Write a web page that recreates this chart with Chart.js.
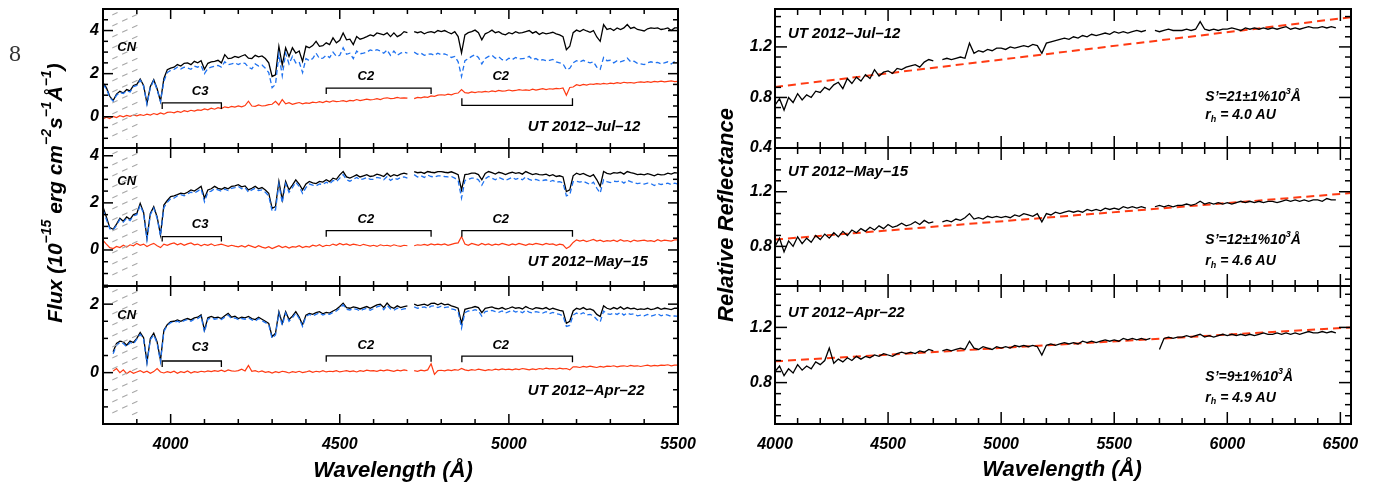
<!DOCTYPE html>
<html>
<head>
<meta charset="utf-8">
<script src="https://cdn.jsdelivr.net/npm/chart.js@4.4.0/dist/chart.umd.min.js"></script>
<style>
  html, body { margin: 0; padding: 0; background: #fff; }
  #wrap { position: relative; width: 1377px; height: 493px; overflow: hidden; }
  #wrap canvas { position: absolute; left: 0; top: 0; }
</style>
</head>
<body>
<div id="wrap">
  <canvas id="l0" width="1377" height="493"></canvas>
  <canvas id="l1" width="1377" height="493"></canvas>
  <canvas id="l2" width="1377" height="493"></canvas>
  <canvas id="r0" width="1377" height="493"></canvas>
  <canvas id="r1" width="1377" height="493"></canvas>
  <canvas id="r2" width="1377" height="493"></canvas>
</div>
<script>
// ---- left panel: flux spectra (10^-15 erg cm^-2 s^-1 A^-1) ----
const leftWl = [
  3800,3810,3820,3830,3840,3850,3860,3870,3880,3890,
  3900,3910,3920,3930,3940,3950,3960,3970,3980,3990,
  4000,4010,4020,4030,4040,4050,4060,4070,4080,4090,
  4100,4110,4120,4130,4140,4150,4160,4170,4180,4190,
  4200,4210,4220,4230,4240,4250,4260,4270,4280,4290,
  4300,4310,4320,4330,4340,4350,4360,4370,4380,4390,
  4400,4410,4420,4430,4440,4450,4460,4470,4480,4490,
  4500,4510,4520,4530,4540,4550,4560,4570,4580,4590,
  4600,4610,4620,4630,4640,4650,4660,4670,4680,4690,
  4700,4710,4720,4730,4740,4750,4760,4770,4780,4790,
  4800,4810,4820,4830,4840,4850,4860,4870,4880,4890,
  4900,4910,4920,4930,4940,4950,4960,4970,4980,4990,
  5000,5010,5020,5030,5040,5050,5060,5070,5080,5090,
  5100,5110,5120,5130,5140,5150,5160,5170,5180,5190,
  5200,5210,5220,5230,5240,5250,5260,5270,5280,5290,
  5300,5310,5320,5330,5340,5350,5360,5370,5380,5390,
  5400,5410,5420,5430,5440,5450,5460,5470,5480,5490,
  5500
];

// UT 2012-Jul-12
const julComet = [
  1.57,1.35,0.95,0.75,1.05,1.18,1.1,1.26,1.2,1.45,
  1.5,1.75,1.45,0.62,1.4,1.72,1.3,0.72,1.78,2.18,
  2.26,2.3,2.42,2.35,2.48,2.5,2.42,2.57,2.5,2.6,
  2.2,2.48,2.55,2.57,2.62,2.5,2.88,2.7,2.72,2.8,
  2.75,2.82,2.88,2.72,2.7,2.85,2.78,2.82,2.7,2.5,
  1.87,1.95,3.27,2.4,3.2,2.8,3.2,2.95,3.05,2.57,
  3.27,3.2,3.3,3.5,3.27,3.3,3.43,3.35,3.66,3.43,
  3.55,3.89,3.57,3.6,3.35,3.72,3.6,3.65,3.72,3.8,
  3.75,3.89,3.85,3.8,3.89,3.72,3.89,3.72,3.8,3.95,
  3.9,null,3.95,3.9,3.95,3.85,3.92,3.95,3.9,4.0,
  3.95,4.0,3.92,3.85,3.95,3.72,2.96,3.8,3.9,3.95,
  4.02,3.9,3.57,3.85,3.92,4.02,3.9,3.95,3.85,3.8,
  3.9,3.85,3.95,3.88,3.9,3.95,4.0,3.88,3.95,3.82,
  3.9,3.85,3.88,3.92,3.85,3.8,3.72,3.11,3.27,3.9,
  4.02,3.95,4.05,3.98,3.92,4.0,3.7,3.5,4.28,4.05,
  4.1,4.0,4.12,4.05,4.12,4.28,4.1,4.15,4.05,4.02,
  3.98,4.08,4.12,4.1,4.12,4.05,4.08,4.12,4.0,4.12,
  4.12
];
const julSolar = [
  1.5,1.3,0.9,0.72,1.0,1.12,1.08,1.2,1.15,1.4,
  1.45,1.7,1.42,0.58,1.35,1.68,1.25,0.7,1.65,2.05,
  2.15,2.2,2.3,2.22,2.3,2.26,2.2,2.35,2.3,2.38,
  2.0,2.25,2.3,2.35,2.38,2.3,2.55,2.42,2.45,2.5,
  2.42,2.5,2.48,2.3,2.22,2.45,2.35,2.4,2.25,2.05,
  1.35,1.5,2.9,1.9,2.95,2.45,2.8,2.5,2.55,2.05,
  2.7,2.6,2.7,2.95,2.7,2.72,2.85,2.75,3.0,2.8,
  2.85,3.2,2.9,2.95,2.7,3.05,2.92,2.95,3.0,3.1,
  3.05,3.11,3.05,2.95,3.1,2.85,3.05,2.85,2.95,3.0,
  2.95,null,3.0,2.9,2.95,2.85,2.9,2.92,2.85,2.95,
  2.88,2.92,2.85,2.75,2.8,2.55,1.87,2.6,2.7,2.8,
  2.88,2.75,2.45,2.7,2.8,2.85,2.72,2.78,2.65,2.6,
  2.72,2.65,2.75,2.68,2.7,2.72,2.8,2.65,2.7,2.6,
  2.65,2.6,2.62,2.66,2.55,2.5,2.45,2.19,2.25,2.5,
  2.6,2.55,2.62,2.55,2.5,2.55,2.3,2.2,2.75,2.6,
  2.62,2.5,2.6,2.55,2.6,2.72,2.55,2.58,2.48,2.45,
  2.42,2.5,2.55,2.5,2.52,2.45,2.5,2.55,2.45,2.57,
  2.57
];
const julGas = [
  -0.1,-0.02,-0.08,0.02,-0.04,0.05,0.0,0.06,0.02,0.08,
  0.04,0.1,0.06,0.12,0.08,0.15,0.1,0.18,0.12,0.2,
  0.22,0.18,0.25,0.2,0.28,0.24,0.3,0.26,0.32,0.3,
  0.36,0.32,0.4,0.35,0.42,0.38,0.46,0.42,0.48,0.45,
  0.5,0.46,0.52,0.72,0.5,0.48,0.55,0.5,0.52,0.56,
  0.58,0.72,0.55,0.8,0.6,0.65,0.58,0.62,0.66,0.6,
  0.64,0.62,0.68,0.65,0.7,0.66,0.72,0.68,0.74,0.7,
  0.72,0.75,0.7,0.76,0.74,0.8,0.75,0.78,0.82,0.78,
  0.8,0.84,0.8,0.86,0.88,0.84,0.85,0.9,0.86,0.88,
  0.86,null,0.84,0.9,0.88,0.92,0.9,0.97,0.95,1.0,
  1.02,1.0,1.05,1.02,1.08,1.1,1.26,1.12,1.1,1.15,
  1.12,1.16,1.14,1.18,1.15,1.2,1.17,1.22,1.19,1.2,
  1.24,1.2,1.22,1.26,1.23,1.25,1.22,1.28,1.24,1.27,
  1.3,1.26,1.3,1.28,1.32,1.3,1.34,1.0,1.36,1.38,
  1.49,1.45,1.5,1.47,1.52,1.5,1.54,1.51,1.55,1.52,
  1.56,1.54,1.58,1.55,1.6,1.57,1.59,1.56,1.6,1.62,
  1.6,1.63,1.6,1.64,1.62,1.65,1.62,1.64,1.66,1.63,
  1.64
];

// UT 2012-May-15
const mayComet = [
  1.83,1.4,0.95,0.88,1.1,1.35,1.22,1.4,1.3,1.5,
  1.55,1.98,1.6,0.5,1.55,1.84,1.4,0.64,1.91,2.1,
  2.27,2.3,2.35,2.41,2.38,2.45,2.55,2.5,2.6,2.7,
  2.2,2.55,2.6,2.7,2.62,2.58,2.65,2.6,2.7,2.72,
  2.77,2.68,2.72,2.55,2.62,2.7,2.6,2.65,2.55,2.41,
  1.77,1.84,2.91,2.13,2.91,2.55,2.75,2.98,2.8,2.55,
  2.8,2.91,2.85,2.82,2.91,2.88,2.98,2.9,3.05,3.0,
  3.19,3.33,3.1,3.05,3.12,3.19,3.1,3.15,3.2,3.12,
  3.15,3.22,3.18,3.12,3.26,3.12,3.2,3.15,3.22,3.26,
  3.22,null,3.33,3.28,3.3,3.25,3.33,3.3,3.28,3.33,
  3.33,3.3,3.28,3.32,3.26,3.2,2.55,3.2,3.22,3.26,
  3.26,3.2,2.98,3.25,3.33,3.28,3.22,3.3,3.26,3.2,
  3.26,3.3,3.25,3.28,3.22,3.33,3.26,3.2,3.24,3.2,
  3.19,3.22,3.15,3.2,3.12,3.15,3.1,2.48,2.55,3.15,
  3.26,3.2,3.25,3.18,3.12,3.2,2.98,2.7,3.33,3.25,
  3.22,3.28,3.26,3.3,3.22,3.33,3.28,3.25,3.2,3.22,
  3.19,3.24,3.2,3.15,3.22,3.19,3.2,3.26,3.22,3.28,
  3.26
];
const maySolar = [
  1.7,1.3,0.9,0.85,1.05,1.3,1.18,1.35,1.25,1.45,
  1.5,1.9,1.55,0.45,1.5,1.78,1.35,0.6,1.8,2.02,
  2.18,2.2,2.3,2.35,2.3,2.38,2.45,2.42,2.5,2.6,
  2.05,2.45,2.5,2.6,2.55,2.5,2.58,2.52,2.62,2.65,
  2.7,2.6,2.65,2.45,2.55,2.62,2.52,2.55,2.45,2.3,
  1.65,1.7,2.8,2.0,2.82,2.45,2.65,2.88,2.7,2.4,
  2.65,2.8,2.75,2.72,2.8,2.78,2.88,2.8,2.95,2.9,
  3.05,3.2,2.98,2.92,3.0,3.08,2.98,3.02,3.08,3.0,
  3.0,3.08,3.05,2.98,3.12,2.95,3.05,3.0,3.08,3.1,
  3.05,null,3.2,3.1,3.15,3.08,3.18,3.12,3.1,3.15,
  3.15,3.12,3.1,3.12,3.05,2.95,2.2,2.95,3.0,3.05,
  3.05,2.98,2.75,3.02,3.12,3.05,2.98,3.08,3.02,2.95,
  3.02,3.08,3.0,3.05,2.98,3.1,3.0,2.95,3.0,2.95,
  2.95,2.98,2.9,2.95,2.88,2.9,2.85,2.3,2.35,2.9,
  2.92,2.88,2.92,2.85,2.78,2.88,2.62,2.42,2.98,2.9,
  2.86,2.92,2.9,2.94,2.84,2.96,2.9,2.86,2.82,2.84,
  2.8,2.84,2.82,2.74,2.82,2.78,2.8,2.84,2.78,2.84,
  2.8
];
const mayGas = [
  0.41,0.25,0.1,0.06,0.15,0.1,0.2,0.12,0.22,0.18,
  0.28,0.2,0.25,0.15,0.22,0.28,0.18,0.1,0.25,0.2,
  0.26,0.3,0.22,0.28,0.2,0.26,0.3,0.22,0.25,0.18,
  0.24,0.2,0.26,0.18,0.22,0.25,0.2,0.15,0.2,0.16,
  0.13,0.18,0.12,0.2,0.15,0.1,0.18,0.12,0.08,0.14,
  0.06,0.12,0.18,0.1,0.15,0.08,0.14,0.12,0.18,0.1,
  0.15,0.12,0.2,0.16,0.22,0.14,0.2,0.18,0.25,0.2,
  0.28,0.22,0.26,0.2,0.25,0.22,0.18,0.24,0.2,0.16,
  0.2,0.15,0.22,0.18,0.2,0.16,0.22,0.18,0.15,0.2,
  0.18,null,0.18,0.22,0.2,0.24,0.2,0.26,0.22,0.25,
  0.22,0.26,0.2,0.24,0.28,0.3,0.57,0.25,0.2,0.28,
  0.24,0.2,0.28,0.22,0.26,0.2,0.25,0.22,0.28,0.24,
  0.2,0.26,0.22,0.28,0.24,0.2,0.26,0.23,0.28,0.25,
  0.22,0.28,0.24,0.26,0.2,0.25,0.22,0.06,0.15,0.32,
  0.43,0.38,0.42,0.36,0.4,0.45,0.38,0.42,0.36,0.4,
  0.38,0.42,0.36,0.44,0.38,0.4,0.35,0.42,0.38,0.4,
  0.42,0.38,0.4,0.36,0.44,0.38,0.42,0.4,0.38,0.43,
  0.43
];

// UT 2012-Apr-22
const aprComet = [
  null,null,null,0.61,0.85,0.92,0.9,0.8,0.92,0.88,
  1.0,1.17,1.02,0.31,1.0,1.15,0.9,0.36,1.24,1.4,
  1.49,1.5,1.54,1.5,1.55,1.58,1.54,1.6,1.62,1.69,
  1.24,1.6,1.64,1.6,1.62,1.58,1.66,1.73,1.62,1.65,
  1.58,1.62,1.6,1.64,1.58,1.55,1.62,1.56,1.5,1.44,
  1.05,1.15,1.78,1.44,1.78,1.55,1.65,1.78,1.62,1.4,
  1.68,1.73,1.7,1.75,1.78,1.72,1.76,1.74,1.8,1.85,
  1.93,2.03,1.9,1.88,1.92,1.9,1.86,1.9,1.93,1.88,
  1.93,1.98,2.0,1.9,2.03,1.92,1.88,1.95,1.9,1.93,
  1.95,null,2.0,1.96,1.98,2.0,1.96,2.02,2.03,1.98,
  2.03,1.98,2.0,1.95,1.92,1.88,1.44,1.85,1.88,1.9,
  1.93,1.9,1.75,1.88,1.9,1.92,1.88,1.86,1.9,1.85,
  1.88,1.92,1.88,1.9,1.86,1.93,1.88,1.85,1.9,1.88,
  1.86,1.9,1.84,1.88,1.85,1.82,1.8,1.44,1.5,1.8,
  1.88,1.85,1.9,1.84,1.86,1.82,1.7,1.64,1.95,1.88,
  1.85,1.9,1.86,1.92,1.85,1.9,1.86,1.88,1.84,1.86,
  1.85,1.88,1.84,1.86,1.9,1.85,1.88,1.86,1.84,1.88,
  1.88
];
const aprSolar = [
  null,null,null,0.55,0.8,0.88,0.85,0.76,0.88,0.84,
  0.98,1.12,0.98,0.28,0.96,1.1,0.86,0.32,1.2,1.38,
  1.46,1.47,1.5,1.46,1.52,1.55,1.5,1.56,1.58,1.65,
  1.18,1.56,1.6,1.56,1.58,1.55,1.62,1.68,1.58,1.6,
  1.55,1.58,1.56,1.6,1.54,1.5,1.58,1.52,1.46,1.4,
  1.0,1.1,1.74,1.38,1.74,1.5,1.6,1.74,1.58,1.35,
  1.64,1.7,1.66,1.7,1.75,1.68,1.72,1.7,1.76,1.8,
  1.88,1.98,1.85,1.83,1.87,1.85,1.8,1.85,1.88,1.82,
  1.87,1.92,1.95,1.84,1.97,1.86,1.82,1.88,1.84,1.86,
  1.88,null,1.92,1.88,1.9,1.92,1.88,1.94,1.95,1.9,
  1.94,1.9,1.92,1.86,1.84,1.78,1.3,1.75,1.8,1.8,
  1.84,1.8,1.65,1.78,1.8,1.82,1.78,1.76,1.8,1.74,
  1.78,1.82,1.77,1.8,1.75,1.82,1.77,1.74,1.78,1.76,
  1.74,1.78,1.72,1.76,1.72,1.7,1.66,1.35,1.38,1.68,
  1.74,1.7,1.75,1.68,1.7,1.66,1.55,1.48,1.8,1.72,
  1.7,1.74,1.7,1.76,1.68,1.74,1.7,1.72,1.66,1.68,
  1.66,1.7,1.65,1.68,1.72,1.66,1.7,1.68,1.64,1.66,
  1.64
];
const aprGas = [
  null,null,null,0.05,0.12,0.0,0.08,-0.03,0.04,-0.02,
  0.02,0.06,0.0,0.04,-0.02,0.03,0.12,0.02,-0.01,0.03,
  0.0,0.04,-0.02,0.03,0.0,0.05,-0.01,0.03,0.01,0.04,
  0.02,0.05,0.03,0.06,0.04,0.07,0.03,0.08,0.05,0.04,
  0.06,0.1,0.05,0.21,0.04,0.06,0.02,0.05,0.01,0.03,
  -0.01,0.03,0.0,0.04,0.02,-0.01,0.03,0.01,0.04,0.0,
  0.02,0.05,0.01,0.04,0.02,0.06,0.02,0.04,0.03,0.06,
  0.02,0.04,0.06,0.03,0.05,0.02,0.06,0.04,0.07,0.05,
  0.06,0.04,0.07,0.05,0.08,0.06,0.04,0.07,0.05,0.08,
  0.06,null,0.06,0.04,0.07,0.05,0.08,0.26,-0.05,0.06,
  0.07,0.05,0.08,0.06,0.09,0.07,0.12,0.08,0.06,0.09,
  0.07,0.1,0.08,0.06,0.09,0.07,0.1,0.08,0.11,0.09,
  0.1,0.08,0.11,0.09,0.12,0.1,0.08,0.11,0.09,0.12,
  0.1,0.13,0.11,0.12,0.1,0.13,0.11,0.12,0.08,0.17,
  0.17,0.15,0.18,0.16,0.19,0.17,0.15,0.18,0.16,0.19,
  0.18,0.2,0.17,0.19,0.2,0.18,0.21,0.19,0.2,0.18,
  0.2,0.22,0.19,0.21,0.2,0.22,0.21,0.23,0.2,0.22,
  0.22
];

// ---- right panel: relative reflectance ----
const rightWl = [
  4000,4020,4040,4060,4080,4100,4120,4140,4160,4180,
  4200,4220,4240,4260,4280,4300,4320,4340,4360,4380,
  4400,4420,4440,4460,4480,4500,4520,4540,4560,4580,
  4600,4620,4640,4660,4680,4700,4720,4740,4760,4780,
  4800,4820,4840,4860,4880,4900,4920,4940,4960,4980,
  5000,5020,5040,5060,5080,5100,5120,5140,5160,5180,
  5200,5220,5240,5260,5280,5300,5320,5340,5360,5380,
  5400,5420,5440,5460,5480,5500,5520,5540,5560,5580,
  5600,5620,5640,5660,5680,5700,5720,5740,5760,5780,
  5800,5820,5840,5860,5880,5900,5920,5940,5960,5980,
  6000,6020,6040,6060,6080,6100,6120,6140,6160,6180,
  6200,6220,6240,6260,6280,6300,6320,6340,6360,6380,
  6400,6420,6440,6460,6480
];
const julRefl = [
  0.74,0.79,0.7,0.8,0.76,0.83,0.78,0.82,0.8,0.85,
  0.84,0.88,0.86,0.9,0.92,0.87,0.95,0.91,0.96,0.93,
  0.98,0.95,1.02,0.97,1.0,1.01,0.99,1.03,1.02,1.04,
  1.05,1.06,1.04,1.08,1.1,1.09,null,1.1,1.11,1.1,
  1.11,1.12,1.11,1.23,1.15,1.17,1.16,1.18,1.17,1.19,
  1.19,1.18,1.2,1.19,1.2,1.21,1.2,1.22,1.21,1.15,
  1.23,1.24,1.25,1.26,1.27,1.26,1.28,1.27,1.29,1.28,
  1.3,1.29,1.3,1.31,1.3,1.32,1.31,1.32,1.31,1.32,
  1.33,1.32,1.33,null,1.33,1.32,1.33,1.34,1.33,1.33,
  1.33,1.34,1.33,1.34,1.4,1.34,1.33,1.34,1.33,1.34,
  1.34,1.35,1.34,1.33,1.35,1.34,1.35,1.34,1.35,1.34,
  1.35,1.34,1.35,1.36,1.34,1.35,1.34,1.35,1.36,1.35,
  1.35,1.36,1.35,1.36,1.35
];
const mayRefl = [
  0.8,0.86,0.76,0.84,0.8,0.87,0.82,0.86,0.83,0.88,
  0.85,0.89,0.86,0.9,0.87,0.91,0.88,0.92,0.9,0.93,
  0.91,0.94,0.92,0.95,0.93,0.96,0.94,0.95,0.97,0.95,
  0.96,0.98,0.96,0.99,0.97,0.98,null,0.98,0.99,0.98,
  1.0,0.99,1.01,1.04,1.0,1.01,1.0,1.02,1.01,1.02,
  1.01,1.02,1.01,1.03,1.02,1.04,1.03,1.02,1.04,0.98,
  1.04,1.03,1.05,1.04,1.05,1.06,1.05,1.06,1.05,1.07,
  1.06,1.07,1.06,1.08,1.07,1.08,1.07,1.09,1.08,1.09,
  1.08,1.09,1.08,null,1.09,1.1,1.09,1.1,1.09,1.1,
  1.1,1.11,1.1,1.11,1.13,1.11,1.12,1.11,1.12,1.11,
  1.12,1.11,1.12,1.13,1.12,1.13,1.12,1.13,1.12,1.13,
  1.13,1.12,1.13,1.14,1.13,1.14,1.13,1.14,1.13,1.14,
  1.14,1.13,1.15,1.14,1.14
];
const aprRefl = [
  0.88,0.92,0.85,0.9,0.87,0.93,0.89,0.92,0.9,0.95,
  0.93,0.96,1.05,0.94,0.97,0.95,0.98,0.96,0.99,0.97,
  0.99,0.98,1.0,0.99,1.01,1.0,0.99,1.01,1.02,1.01,
  1.02,1.01,1.03,1.02,1.04,1.03,null,1.03,1.04,1.03,
  1.04,1.05,1.04,1.1,1.05,1.04,1.06,1.05,1.04,1.06,
  1.05,1.06,1.05,1.07,1.06,1.07,1.06,1.07,1.06,1.0,
  1.07,1.08,1.07,1.08,1.09,1.08,1.09,1.08,1.1,1.09,
  1.1,1.09,1.1,1.11,1.1,1.11,1.1,1.12,1.11,1.12,
  1.11,1.12,1.11,1.12,null,1.04,1.12,1.13,1.12,1.13,
  1.13,1.14,1.13,1.14,1.15,1.13,1.14,1.13,1.14,1.15,
  1.14,1.15,1.14,1.15,1.14,1.15,1.14,1.15,1.16,1.15,
  1.15,1.16,1.15,1.16,1.15,1.16,1.15,1.16,1.17,1.16,
  1.16,1.17,1.16,1.17,1.16
];
// linear reflectance-gradient fits (end points)
const fitWl = [4000, 6547];
const julFit = [0.883, 1.435];
const mayFit = [0.85, 1.19];
const aprFit = [0.954, 1.2];

// ---- tick values ----
const leftXMajor = [4000, 4500, 5000, 5500];
const leftXMinor = [3900, 4100, 4200, 4300, 4400, 4600, 4700, 4800, 4900, 5100, 5200, 5300, 5400];
const leftYMinor = [-1.5, -1, -0.5, 0.5, 1, 1.5, 2.5, 3, 3.5, 4.5, 5];
const rightXMajor = [4000, 4500, 5000, 5500, 6000, 6500];
const rightXMinor = [4100, 4200, 4300, 4400, 4600, 4700, 4800, 4900, 5100, 5200, 5300, 5400,
                     5600, 5700, 5800, 5900, 6100, 6200, 6300, 6400];
const rightYMinor = [0.48, 0.56, 0.64, 0.72, 0.88, 0.96, 1.04, 1.12, 1.28, 1.36, 1.44];

// ---- drawing ----
const W = 1377, H = 493, AXW = 60, AXH = 40;
const FAM = '"Liberation Sans", Arial, Helvetica, sans-serif';
const tickFont = { family: 'Liberation Sans', size: 16, style: 'italic', weight: 'bold' };
const BLACK = '#000000', BLUE = '#1f72f0', RED = '#ff3a12';
const decorCfg = {};

function pts(xs, ys) {
  return xs.map((v, i) => ({ x: v, y: ys[i] === undefined ? null : ys[i] }));
}

function drawParts(ctx, parts, x, y, size, align) {
  const fnt = k => 'italic bold ' + (k ? Math.round(size * 0.65) : size) + 'px ' + FAM;
  let w = 0;
  parts.forEach(p => { ctx.font = fnt(p[1]); w += ctx.measureText(p[0]).width; });
  let cx = align === 'center' ? x - w / 2 : align === 'right' ? x - w : x;
  ctx.textAlign = 'left';
  ctx.textBaseline = 'middle';
  parts.forEach(p => {
    ctx.font = fnt(p[1]);
    const dy = p[1] === 1 ? -size * 0.4 : p[1] === -1 ? size * 0.3 : 0;
    ctx.fillText(p[0], cx, y + dy);
    cx += ctx.measureText(p[0]).width;
  });
}

const decor = {
  id: 'decor',
  afterDraw(chart) {
    const d = decorCfg[chart.canvas.id];
    if (!d) return;
    const { ctx, chartArea: a, scales: { x, y } } = chart;
    const line = (x1, y1, x2, y2) => { ctx.beginPath(); ctx.moveTo(x1, y1); ctx.lineTo(x2, y2); ctx.stroke(); };

    // CN hatched band
    if (d.hatch) {
      ctx.save();
      const xa = x.getPixelForValue(d.hatch[0]), xb = x.getPixelForValue(d.hatch[1]);
      ctx.beginPath();
      ctx.rect(xa, a.top + 2, xb - xa, a.bottom - a.top - 10);
      ctx.clip();
      ctx.strokeStyle = '#a8a8a8';
      ctx.lineWidth = 1.1;
      ctx.setLineDash([6, 5]);
      for (let yy = a.top + 6; yy < a.bottom + 14; yy += 11) line(xa, yy, xb, yy - 12);
      ctx.restore();
    }

    ctx.save();
    ctx.strokeStyle = '#000';
    ctx.fillStyle = '#000';
    ctx.setLineDash([]);

    // inward ticks on all four sides
    ctx.lineWidth = 1.5;
    const xt = (vals, len) => vals.forEach(v => {
      const px = x.getPixelForValue(v);
      if (px < a.left - 0.5 || px > a.right + 0.5) return;
      line(px, a.bottom, px, a.bottom - len);
      line(px, a.top, px, a.top + len);
    });
    const yt = (vals, len) => vals.forEach(v => {
      const py = y.getPixelForValue(v);
      if (py < a.top - 0.5 || py > a.bottom + 0.5) return;
      line(a.left, py, a.left + len, py);
      line(a.right, py, a.right - len, py);
    });
    xt(d.xMajor, d.len[0]); xt(d.xMinor, d.len[1]);
    yt(d.yMajor, d.len[2]); yt(d.yMinor, d.len[3]);

    // band brackets
    ctx.lineWidth = 1.3;
    (d.brackets || []).forEach(b => {
      const x1 = x.getPixelForValue(b[0]), x2 = x.getPixelForValue(b[1]), py = y.getPixelForValue(b[2]);
      ctx.beginPath();
      ctx.moveTo(x1, py + b[3]); ctx.lineTo(x1, py); ctx.lineTo(x2, py); ctx.lineTo(x2, py + b[3]);
      ctx.stroke();
    });

    // frame
    ctx.lineWidth = 2;
    ctx.strokeRect(a.left, a.top, a.right - a.left, a.bottom - a.top);

    // labels
    (d.labels || []).forEach(l => {
      const parts = typeof l.t === 'string' ? [[l.t, 0]] : l.t;
      drawParts(ctx, parts, x.getPixelForValue(l.x), y.getPixelForValue(l.y), l.size, l.align || 'center');
    });

    if (d.extra) d.extra(ctx, a);
    ctx.restore();
  }
};

function build(id, box, spec) {
  const showX = !!spec.showX;
  decorCfg[id] = spec.decor;
  return new Chart(document.getElementById(id), {
    type: 'line',
    data: { datasets: spec.datasets },
    options: {
      responsive: false,
      animation: false,
      devicePixelRatio: 1,
      events: [],
      layout: { padding: { left: box.left - AXW, top: box.top, right: W - box.right,
                           bottom: H - box.bottom - (showX ? AXH : 0) } },
      plugins: { legend: { display: false }, tooltip: { enabled: false } },
      elements: { point: { radius: 0 }, line: { tension: 0 } },
      scales: {
        x: {
          type: 'linear', min: spec.xMin, max: spec.xMax,
          grid: { display: false, drawTicks: false }, border: { display: false },
          afterBuildTicks: s => { s.ticks = spec.decor.xMajor.map(v => ({ value: v })); },
          afterFit: s => { s.height = showX ? AXH : 0; s.paddingLeft = 0; s.paddingRight = 0; },
          ticks: { display: showX, padding: 11, color: '#000', font: tickFont, maxRotation: 0,
                   autoSkip: false, callback: v => String(v) }
        },
        y: {
          type: 'linear', min: spec.yMin, max: spec.yMax,
          grid: { display: false, drawTicks: false }, border: { display: false },
          afterBuildTicks: s => { s.ticks = spec.decor.yMajor.map(v => ({ value: v })); },
          afterFit: s => { s.width = AXW; s.paddingTop = 0; s.paddingBottom = 0; },
          ticks: { padding: spec.yPad, color: '#000', font: tickFont, autoSkip: false,
                   callback: v => spec.yFmt(v) }
        }
      }
    },
    plugins: [decor]
  });
}

function spectra(comet, solar, gas) {
  return [
    { data: pts(leftWl, gas), borderColor: RED, borderWidth: 1.2, spanGaps: false, pointRadius: 0 },
    { data: pts(leftWl, solar), borderColor: BLUE, borderWidth: 1.3, borderDash: [5, 3], spanGaps: false, pointRadius: 0 },
    { data: pts(leftWl, comet), borderColor: BLACK, borderWidth: 1.3, spanGaps: false, pointRadius: 0 }
  ];
}
function reflect(refl, fit) {
  return [
    { data: pts(rightWl, refl), borderColor: BLACK, borderWidth: 1.3, spanGaps: false, pointRadius: 0 },
    { data: pts(fitWl, fit), borderColor: RED, borderWidth: 2, borderDash: [8, 5], pointRadius: 0 }
  ];
}

const rows = [[9, 148], [148, 286], [286, 424]];
const LBOX = (r) => ({ left: 103, right: 678, top: rows[r][0], bottom: rows[r][1] });
const RBOX = (r) => ({ left: 775, right: 1351, top: rows[r][0], bottom: rows[r][1] });
const leftLen = [10, 5, 10, 5], rightLen = [12, 6, 12, 6];
const intFmt = v => String(v), decFmt = v => v.toFixed(1);

function leftDecor(yMajor, date, dateY, cnY, c3Y, c2Y, brackets, extra) {
  return {
    xMajor: leftXMajor, xMinor: leftXMinor, yMajor: yMajor, yMinor: leftYMinor, len: leftLen,
    hatch: [3827, 3903], brackets: brackets,
    labels: [
      { t: 'CN', x: 3870, y: cnY, size: 13 },
      { t: 'C3', x: 4087, y: c3Y, size: 13 },
      { t: 'C2', x: 4577, y: c2Y, size: 13 },
      { t: 'C2', x: 4976, y: c2Y, size: 13 },
      { t: date, x: 5056, y: dateY, size: 15, align: 'left' }
    ],
    extra: extra
  };
}
function rightDecor(yMajor, date, dateY, slope, sY, rh, rY, extra) {
  return {
    xMajor: rightXMajor, xMinor: rightXMinor, yMajor: yMajor, yMinor: rightYMinor, len: rightLen,
    labels: [
      { t: date, x: 4057, y: dateY, size: 15, align: 'left' },
      { t: [['S\u2019=' + slope + '\u00b11%10', 0], ['3', 1], ['\u00c5', 0]], x: 5903, y: sY, size: 14, align: 'left' },
      { t: [['r', 0], ['h', -1], [' = ' + rh + ' AU', 0]], x: 5903, y: rY, size: 14, align: 'left' }
    ],
    extra: extra
  };
}

build('l0', LBOX(0), {
  xMin: 3800, xMax: 5500, yMin: -1.45, yMax: 5.0, yPad: 4, yFmt: intFmt,
  datasets: spectra(julComet, julSolar, julGas),
  decor: leftDecor([0, 2, 4], 'UT 2012\u2013Jul\u201312', -0.48, 3.22, 1.16, 1.86,
    [[3975, 4150, 0.64, 6], [4460, 4770, 1.33, 6], [4861, 5188, 0.53, -7]],
    (ctx) => {
      ctx.font = '24px "Liberation Serif", "DejaVu Serif", serif';
      ctx.fillStyle = '#333';
      ctx.textAlign = 'center'; ctx.textBaseline = 'middle';
      ctx.fillText('8', 15, 55);
    })
});
build('l1', LBOX(1), {
  xMin: 3800, xMax: 5500, yMin: -1.53, yMax: 4.33, yPad: 4, yFmt: intFmt,
  datasets: spectra(mayComet, maySolar, mayGas),
  decor: leftDecor([0, 2, 4], 'UT 2012\u2013May\u201315', -0.5, 2.9, 1.1, 1.29,
    [[3975, 4150, 0.57, 5], [4460, 4770, 0.82, 6], [4861, 5188, 0.82, 6]])
});
build('l2', LBOX(2), {
  xMin: 3800, xMax: 5500, yMin: -1.5, yMax: 2.53, yPad: 4, yFmt: intFmt, showX: true,
  datasets: spectra(aprComet, aprSolar, aprGas),
  decor: leftDecor([0, 2], 'UT 2012\u2013Apr\u201322', -0.53, 1.66, 0.74, 0.8,
    [[3975, 4150, 0.34, 6], [4460, 4770, 0.49, 6], [4861, 5188, 0.48, 6]],
    (ctx) => {
      ctx.fillStyle = '#000';
      drawParts(ctx, [['Wavelength (\u00c5)', 0]], 393, 471, 22, 'center');
      ctx.save();
      ctx.translate(56, 193);
      ctx.rotate(-Math.PI / 2);
      drawParts(ctx, [['Flux (10', 0], ['\u221215', 1], [' erg cm', 0], ['\u22122', 1], ['s', 0],
                      ['\u22121', 1], ['\u00c5', 0], ['\u22121', 1], [')', 0]], 0, 0, 21, 'center');
      ctx.restore();
    })
});

build('r0', RBOX(0), {
  xMin: 4000, xMax: 6547, yMin: 0.4, yMax: 1.5, yPad: 3, yFmt: decFmt,
  datasets: reflect(julRefl, julFit),
  decor: rightDecor([0.4, 0.8, 1.2], 'UT 2012\u2013Jul\u201312', 1.30, '21', 0.806, '4.0', 0.66)
});
build('r1', RBOX(1), {
  xMin: 4000, xMax: 6547, yMin: 0.51, yMax: 1.52, yPad: 3, yFmt: decFmt,
  datasets: reflect(mayRefl, mayFit),
  decor: rightDecor([0.8, 1.2], 'UT 2012\u2013May\u201315', 1.343, '12', 0.849, '4.6', 0.689)
});
build('r2', RBOX(2), {
  xMin: 4000, xMax: 6547, yMin: 0.5, yMax: 1.5, yPad: 3, yFmt: decFmt, showX: true,
  datasets: reflect(aprRefl, aprFit),
  decor: rightDecor([0.8, 1.2], 'UT 2012\u2013Apr\u201322', 1.307, '9', 0.843, '4.9', 0.69,
    (ctx) => {
      ctx.fillStyle = '#000';
      drawParts(ctx, [['Wavelength (\u00c5)', 0]], 1062, 470, 22, 'center');
      ctx.save();
      ctx.translate(727, 215);
      ctx.rotate(-Math.PI / 2);
      drawParts(ctx, [['Relative Reflectance', 0]], 0, 0, 22, 'center');
      ctx.restore();
    })
});
</script>
</body>
</html>
